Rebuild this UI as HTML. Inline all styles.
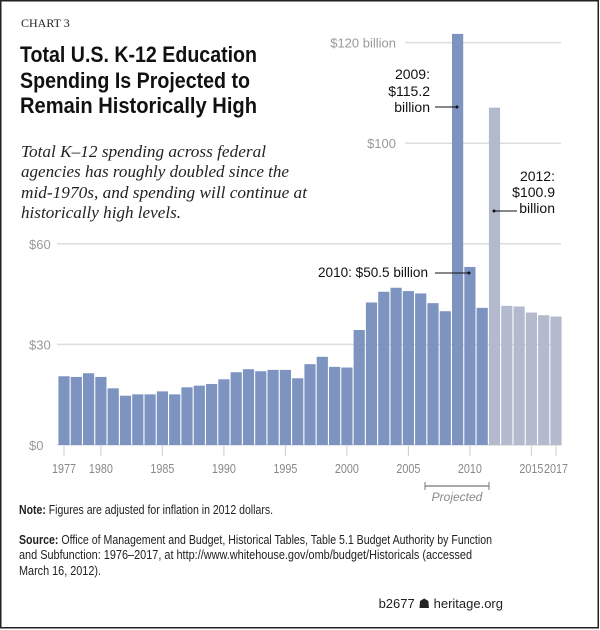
<!DOCTYPE html>
<html><head><meta charset="utf-8"><style>
body{margin:0;background:#fff;}
svg{display:block;}
</style></head><body>
<svg id="chart" width="600" height="630" xmlns="http://www.w3.org/2000/svg" font-family="Liberation Sans, sans-serif">
<rect x="0.75" y="0.75" width="597.5" height="627" fill="#fff" stroke="#222" stroke-width="1.5"/>
<text x="21" y="27" font-family="Liberation Serif, serif" font-size="12" fill="#222">CHART 3</text>
<g font-size="22" font-weight="bold" fill="#111">
<text x="20" y="62" textLength="237" lengthAdjust="spacingAndGlyphs">Total U.S. K-12 Education</text>
<text x="20" y="88" textLength="230" lengthAdjust="spacingAndGlyphs">Spending Is Projected to</text>
<text x="20" y="113" textLength="237" lengthAdjust="spacingAndGlyphs">Remain Historically High</text>
</g>
<g font-family="Liberation Serif, serif" font-style="italic" font-size="17" fill="#222">
<text x="21" y="157" textLength="245" lengthAdjust="spacingAndGlyphs">Total K–12 spending across federal</text>
<text x="21" y="177" textLength="268" lengthAdjust="spacingAndGlyphs">agencies has roughly doubled since the</text>
<text x="21" y="198" textLength="286" lengthAdjust="spacingAndGlyphs">mid-1970s, and spending will continue at</text>
<text x="21" y="218" textLength="160" lengthAdjust="spacingAndGlyphs">historically high levels.</text>
</g>
<g id="grid"></g>
<g id="bars"></g>
<g id="xaxis"></g>
<g font-size="14" fill="#111">
<text x="430" y="79" text-anchor="end">2009:</text>
<text x="430" y="96" text-anchor="end">$115.2</text>
<text x="430" y="112" text-anchor="end">billion</text>
<line x1="435" y1="107" x2="457" y2="107" stroke="#111"/><circle cx="457" cy="107" r="1.5" fill="#111"/>
<text x="555" y="181" text-anchor="end">2012:</text>
<text x="555" y="197" text-anchor="end">$100.9</text>
<text x="555" y="213" text-anchor="end">billion</text>
<line x1="494" y1="211" x2="517" y2="211" stroke="#111"/><circle cx="494" cy="211" r="1.5" fill="#111"/>
<text x="428" y="277" text-anchor="end" textLength="110" lengthAdjust="spacingAndGlyphs">2010: $50.5 billion</text>
<line x1="435" y1="273" x2="469" y2="273" stroke="#111"/><circle cx="469" cy="273" r="1.5" fill="#111"/>
</g>
<g>
<line x1="425" y1="486" x2="489" y2="486" stroke="#777" stroke-width="1.2"/>
<line x1="425" y1="482" x2="425" y2="490" stroke="#777"/>
<line x1="489" y1="482" x2="489" y2="490" stroke="#777"/>
<text x="457" y="501" text-anchor="middle" font-size="12" font-style="italic" fill="#888">Projected</text>
</g>
<text x="19" y="514" font-size="12.5" fill="#222" textLength="254" lengthAdjust="spacingAndGlyphs"><tspan font-weight="bold">Note:</tspan> Figures are adjusted for inflation in 2012 dollars.</text>
<g font-size="12.5" fill="#222">
<text x="19" y="544" textLength="473" lengthAdjust="spacingAndGlyphs"><tspan font-weight="bold">Source:</tspan> Office of Management and Budget, Historical Tables, Table 5.1 Budget Authority by Function</text>
<text x="19" y="559" textLength="453" lengthAdjust="spacingAndGlyphs">and Subfunction: 1976–2017, at http://www.whitehouse.gov/omb/budget/Historicals (accessed</text>
<text x="19" y="575" textLength="82" lengthAdjust="spacingAndGlyphs">March 16, 2012).</text>
</g>
<text x="503" y="608" text-anchor="end" font-size="13" fill="#222">b2677 ☗ heritage.org</text>
</svg>
<script>
const years=[1977,1978,1979,1980,1981,1982,1983,1984,1985,1986,1987,1988,1989,1990,1991,1992,1993,1994,1995,1996,1997,1998,1999,2000,2001,2002,2003,2004,2005,2006,2007,2008,2009,2010,2011,2012,2013,2014,2015,2016,2017];
const spending=[20.5,20.3,21.4,20.3,16.9,14.7,15.1,15.1,16.0,15.1,17.2,17.7,18.2,19.6,21.7,22.6,22.0,22.4,22.4,19.9,24.1,26.3,23.3,23.1,34.3,42.5,45.7,46.9,45.9,45.2,42.3,39.9,122.6,53.1,40.9,100.6,41.5,41.3,39.5,38.7,38.3];
const firstProjectedYear=2012;
const tickValues=[0,30,60,90,120];
const tickLabels=["$0","$30","$60","$100","$120 billion"];
const xTickYears=[1977,1980,1985,1990,1995,2000,2005,2010,2015,2017];
const xTickLabels=["1977","1980","1985","1990","1995","2000","2005","2010","2015","2017"];

const NS="http://www.w3.org/2000/svg";
const y0=445,pxPerUnit=100.6/30;
const yScale=v=>y0-v*pxPerUnit;
const xScale=yr=>64+(yr-1977)*12.3;
function mk(tag,attrs,parent){const e=document.createElementNS(NS,tag);for(const k in attrs)e.setAttribute(k,attrs[k]);parent.appendChild(e);return e;}
const grid=document.getElementById('grid'),bars=document.getElementById('bars'),xa=document.getElementById('xaxis');
tickValues.forEach((v,i)=>{
  const y=yScale(v);const right=v>60;
  const l=mk('line',{x1:right?405:57,x2:561,y1:y,y2:y,stroke:'#ddd','stroke-width':1.5},grid);
  
  
  const t=mk('text',{x:right?396:29,y:y+5,'font-size':13,fill:'#999','text-anchor':right?'end':'start'},grid);
  t.textContent=tickLabels[i];
  
  
});
years.forEach((yr,i)=>{
  const v=spending[i];const x=xScale(yr);
  const r=mk('rect',{x:x-5.6,width:11.2,y:yScale(v),height:y0-yScale(v),fill:yr>=firstProjectedYear?'#b3bacd':'#7d94c1'},bars);
  
  
});
xTickYears.forEach((yr,i)=>{
  const x=xScale(yr);
  const l=mk('line',{x1:x,x2:x,y1:446,y2:456,stroke:'#ccc','stroke-width':1},xa);
  
  
  const t=mk('text',{x:x,y:473,'font-size':12.5,fill:'#888','text-anchor':'middle',textLength:24,lengthAdjust:'spacingAndGlyphs'},xa);
  t.textContent=xTickLabels[i];
  
  
});
</script>
</body></html>
